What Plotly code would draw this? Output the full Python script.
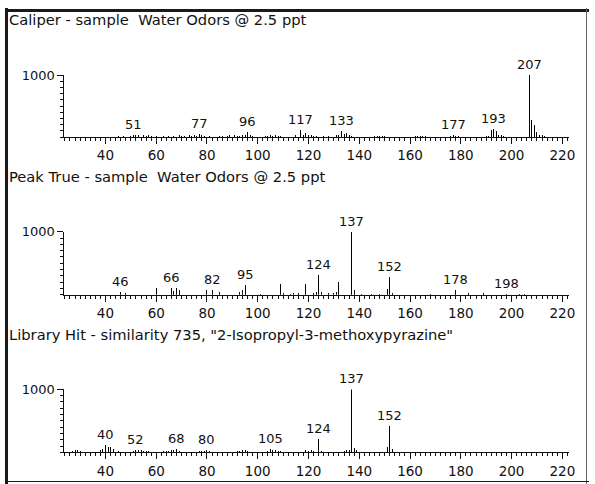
import plotly.graph_objects as go

W, H = 595, 484

# ---------------- data ----------------
titles = [
    "Caliper - sample  Water Odors @ 2.5 ppt",
    "Peak True - sample  Water Odors @ 2.5 ppt",
    'Library Hit - similarity 735, "2-Isopropyl-3-methoxypyrazine"',
]

caliper_mz = [45, 47, 50, 51, 52, 53, 55, 56, 57, 58, 60, 63, 65, 67, 69, 70, 71, 73, 74, 75, 76, 77, 78, 79,
              81, 85, 86, 88, 89, 91, 92, 93, 94, 95, 96, 97, 98, 103, 104, 105, 106, 107, 108, 109,
              115, 117, 118, 119, 120, 121, 122, 123, 126, 128, 131, 132, 133, 134, 135, 136, 137,
              146, 147, 148, 149, 150, 162, 163, 164, 165, 166, 176, 177, 178, 179,
              190, 191, 192, 193, 194, 195, 196, 197, 207, 208, 209, 210, 211, 212, 213]
caliper_int = [15, 20, 25, 40, 30, 35, 30, 25, 40, 20, 15, 20, 25, 20, 35, 20, 25, 30, 20, 35, 25, 50, 30, 20,
               15, 20, 25, 15, 30, 35, 20, 25, 40, 35, 75, 30, 20, 15, 20, 30, 25, 35, 20, 25,
               35, 120, 40, 60, 30, 35, 25, 20, 15, 20, 30, 35, 100, 45, 60, 30, 25,
               15, 25, 20, 15, 20, 15, 25, 20, 25, 15, 20, 30, 25, 15,
               15, 25, 110, 130, 100, 40, 35, 20, 1000, 270, 200, 80, 40, 30, 20]
caliper_labels = [51, 77, 96, 117, 133, 177, 193, 207]

peaktrue_mz = [46, 48, 60, 66, 67, 68, 69, 80, 82, 85, 93, 94, 95, 101, 109, 110, 113, 114, 116, 119,
               122, 123, 124, 125, 128, 130, 131, 132, 137, 138, 141, 145, 148, 151, 152, 153,
               168, 178, 183, 189, 198, 203, 205]
peaktrue_int = [40, 30, 110, 110, 60, 100, 70, 80, 80, 50, 50, 70, 150, 20, 170, 30, 20, 35, 30, 170,
                30, 40, 310, 40, 25, 30, 40, 200, 1000, 80, 20, 20, 15, 90, 275, 30,
                20, 75, 25, 25, 15, 20, 20]
peaktrue_labels = [46, 66, 82, 95, 124, 137, 152, 178, 198]

library_mz = [27, 28, 29, 30, 38, 39, 40, 41, 42, 43, 45, 51, 52, 53, 54, 55, 56, 57, 63, 64, 65, 66,
              67, 68, 69, 77, 78, 79, 80, 81, 92, 93, 94, 95, 96, 104, 105, 106, 107, 108, 109,
              119, 120, 121, 122, 124, 125, 133, 134, 135, 136, 137, 138, 139, 151, 152, 153]
library_int = [30, 40, 35, 20, 40, 60, 120, 80, 90, 50, 20, 30, 45, 40, 35, 30, 25, 20, 20, 30, 25, 35,
               40, 50, 30, 20, 30, 25, 45, 30, 20, 30, 40, 35, 25, 30, 50, 40, 45, 30, 25,
               40, 30, 35, 30, 220, 30, 15, 30, 35, 40, 1000, 70, 40, 90, 415, 50]
library_labels = [40, 52, 68, 80, 105, 124, 137, 152]

x_tick_labels = ["40", "60", "80", "100", "120", "140", "160", "180", "200", "220"]
x_tick_vals = [40, 60, 80, 100, 120, 140, 160, 180, 200, 220]
y_tick_vals = [1000]
y_tick_text = ["1000"]

# ---------------- layout geometry (pixels) ----------------
X_LEFT, X_RIGHT = 65, 575
XRANGE = [23.8, 222.7]
panels = [  # (baseline_px, top_px, title_px)
    (132, 69, 13),
    (292, 228, 172),
    (452, 388, 332),
]
FONT = "DejaVu Sans"
INK = "#111111"

series = [
    (caliper_mz, caliper_int, caliper_labels),
    (peaktrue_mz, peaktrue_int, peaktrue_labels),
    (library_mz, library_int, library_labels),
]

fig = go.Figure()
annotations = []
layout_axes = {}

for i, ((mz, inten, labels), (base, top, ty)) in enumerate(zip(series, panels)):
    n = "" if i == 0 else str(i + 1)
    xs, ys = [], []
    for m, v in zip(mz, inten):
        xs += [m, m, None]
        ys += [0, v, None]
    fig.add_trace(go.Scatter(
        x=xs, y=ys, mode="lines", line=dict(color="#000000", width=1),
        xaxis="x" + n, yaxis="y" + n, hoverinfo="skip", showlegend=False,
        cliponaxis=False,
    ))
    lookup = dict(zip(mz, inten))
    for m in labels:
        annotations.append(dict(
            x=m, y=lookup[m], xref="x" + n, yref="y" + n, text=str(m),
            showarrow=False, yanchor="bottom", xanchor="center", yshift=1,
            font=dict(family=FONT, size=13, color=INK),
        ))
    annotations.append(dict(
        x=7 / W, y=1 - ty / H, xref="paper", yref="paper", text=titles[i],
        showarrow=False, xanchor="left", yanchor="middle",
        font=dict(family=FONT, size=14.7, color=INK),
    ))
    layout_axes["xaxis" + n] = dict(
        domain=[X_LEFT / W, X_RIGHT / W], range=XRANGE, anchor="y" + n,
        showline=True, linecolor=INK, linewidth=1, mirror=False,
        showgrid=False, zeroline=False,
        tickmode="array", tickvals=x_tick_vals, ticktext=x_tick_labels,
        ticks="outside", ticklen=6, tickwidth=1, tickcolor=INK,
        minor=dict(tickmode="linear", tick0=0, dtick=2, ticks="outside",
                   ticklen=3, tickwidth=1, tickcolor=INK, showgrid=False),
        tickfont=dict(family=FONT, size=13.5, color=INK),
        fixedrange=True,
    )
    layout_axes["yaxis" + n] = dict(
        domain=[1 - base / H, 1 - top / H], range=[0, 1000], anchor="x" + n,
        showline=True, linecolor=INK, linewidth=1,
        showgrid=False, zeroline=False,
        tickmode="array", tickvals=y_tick_vals, ticktext=y_tick_text,
        ticks="outside", ticklen=6, tickwidth=1, tickcolor=INK,
        minor=dict(tickmode="linear", tick0=0, dtick=100, ticks="outside",
                   ticklen=3, tickwidth=1, tickcolor=INK, showgrid=False),
        tickfont=dict(family=FONT, size=13, color=INK),
        fixedrange=True,
    )

shapes = [
    # sunken window frame: thick dark top/left, thin right/bottom
    dict(type="line", xref="paper", yref="paper", x0=6.5 / W, x1=6.5 / W, y0=0, y1=1 - 1 / H,
         line=dict(color="#1a1a1a", width=3)),
    dict(type="line", xref="paper", yref="paper", x0=5 / W, x1=1, y0=1 - 3.5 / H, y1=1 - 3.5 / H,
         line=dict(color="#1a1a1a", width=3)),
    dict(type="line", xref="paper", yref="paper", x0=592.5 / W, x1=592.5 / W, y0=0, y1=1 - 1 / H,
         line=dict(color="#666666", width=1)),
    dict(type="line", xref="paper", yref="paper", x0=5 / W, x1=1, y0=1 - 481.5 / H, y1=1 - 481.5 / H,
         line=dict(color="#1a1a1a", width=1)),
]

fig.update_layout(
    width=W, height=H, margin=dict(l=0, r=0, t=0, b=0),
    paper_bgcolor="white", plot_bgcolor="white",
    showlegend=False, annotations=annotations, shapes=shapes,
    **layout_axes,
)

fig.write_html(
    "out.html",
    config={"displayModeBar": False, "staticPlot": True},
    post_script=(
        "document.documentElement.style.margin='0';"
        "document.body.style.margin='0';document.body.style.padding='0';"
        "document.documentElement.style.overflow='hidden';"
        "var d=document.getElementById('{plot_id}');"
        "d.style.position='fixed';d.style.top='0px';d.style.left='0px';"
        "var st=document.createElement('style');"
        "st.textContent='#'+'{plot_id}'+' path{shape-rendering:crispEdges;}';"
        "document.head.appendChild(st);"
    ),
)
